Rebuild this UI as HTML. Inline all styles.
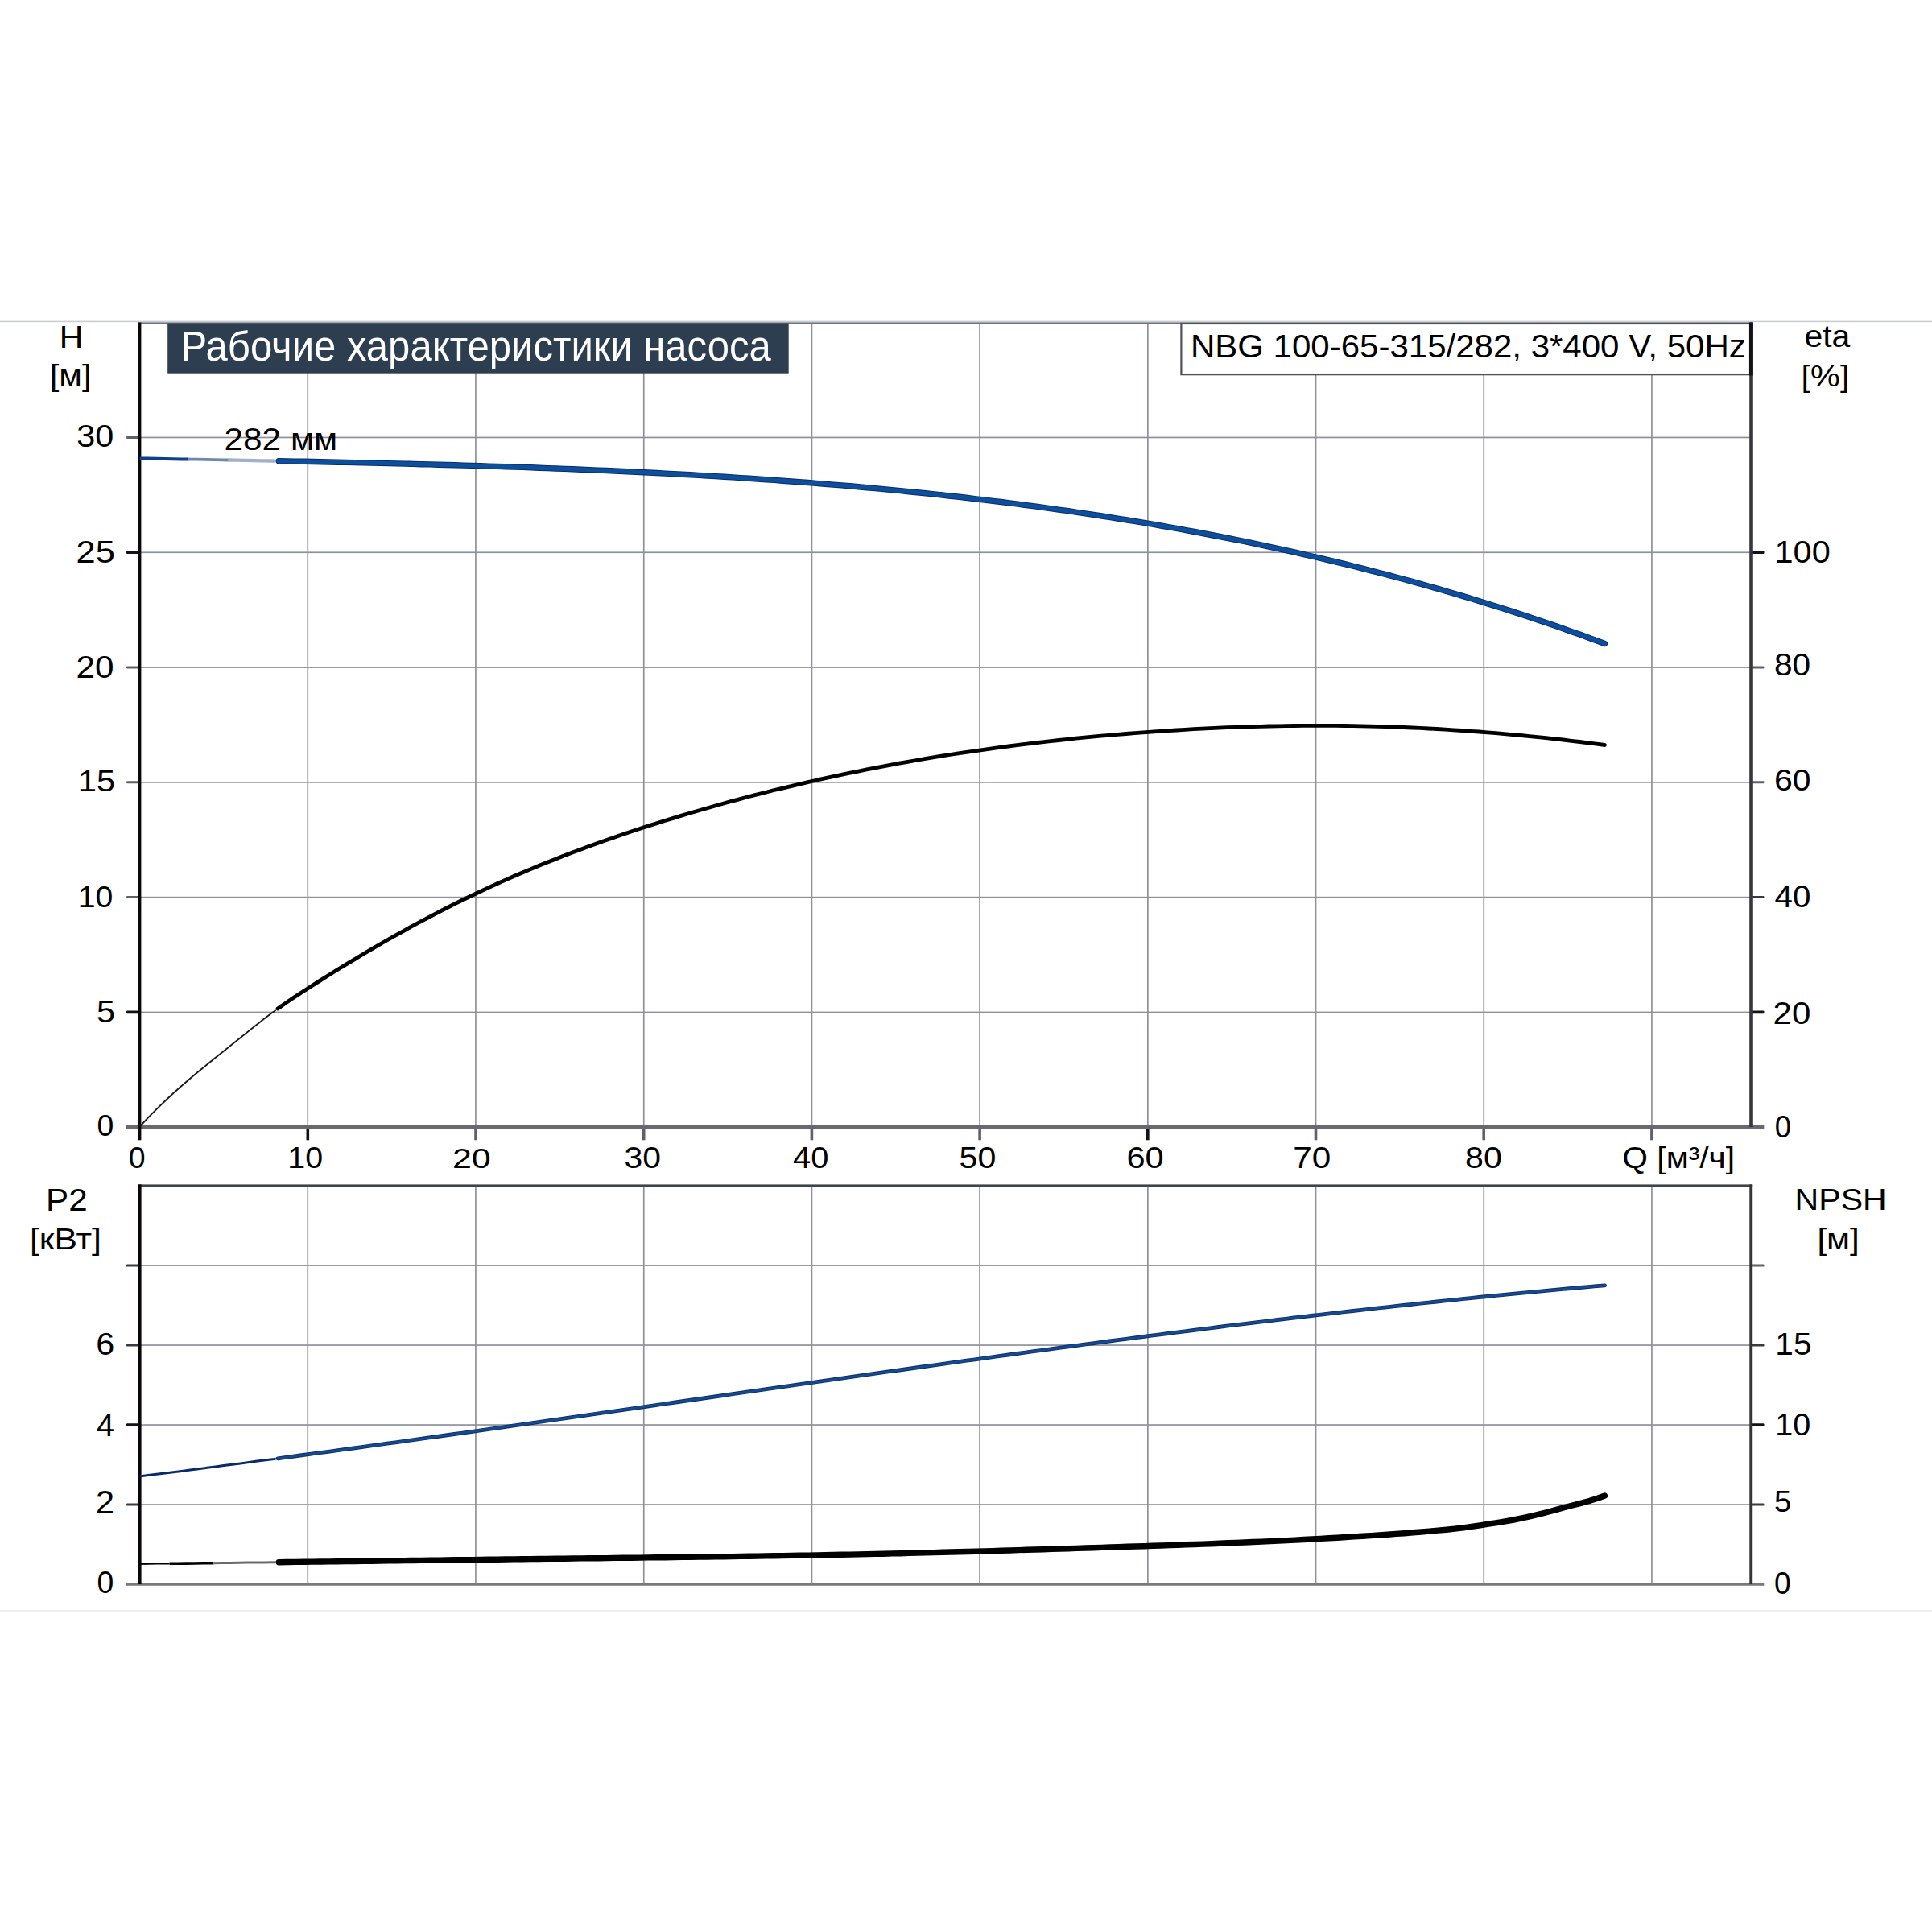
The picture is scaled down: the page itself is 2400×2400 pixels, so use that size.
<!DOCTYPE html>
<html><head><meta charset="utf-8"><title>NBG 100-65-315/282</title>
<style>html,body{margin:0;padding:0;background:#fff;}svg{display:block;}text{font-family:"Liberation Sans",sans-serif;fill:#000;}</style>
</head><body>
<svg width="2400" height="2400" viewBox="0 0 2400 2400">
<rect x="0" y="0" width="2400" height="2400" fill="#fff"/>
<rect x="0" y="398.6" width="2400" height="1.6" fill="#c9cdd2"/>
<rect x="0" y="2000.4" width="2400" height="1.3" fill="#e3e7ea"/>
<rect x="381.4" y="401" width="1.7" height="999" fill="#8e919d"/>
<rect x="590.1" y="401" width="1.7" height="999" fill="#8e919d"/>
<rect x="798.9" y="401" width="1.7" height="999" fill="#8e919d"/>
<rect x="1007.6" y="401" width="1.7" height="999" fill="#8e919d"/>
<rect x="1216.2" y="401" width="1.7" height="999" fill="#8e919d"/>
<rect x="1425" y="401" width="1.7" height="999" fill="#8e919d"/>
<rect x="1633.7" y="401" width="1.7" height="999" fill="#8e919d"/>
<rect x="1842.4" y="401" width="1.7" height="999" fill="#8e919d"/>
<rect x="2051.1" y="401" width="1.7" height="999" fill="#8e919d"/>
<rect x="173" y="1256.6" width="2002" height="1.7" fill="#8e919d"/>
<rect x="173" y="1113.8" width="2002" height="1.7" fill="#8e919d"/>
<rect x="173" y="971" width="2002" height="1.7" fill="#8e919d"/>
<rect x="173" y="828.2" width="2002" height="1.7" fill="#8e919d"/>
<rect x="173" y="685.4" width="2002" height="1.7" fill="#8e919d"/>
<rect x="173" y="542.6" width="2002" height="1.7" fill="#8e919d"/>
<rect x="171.4" y="400.4" width="2006.6" height="2.2" fill="#6e747c"/>
<rect x="157" y="1255.6" width="16" height="3.6" rx="1.2" fill="#121114"/>
<rect x="157" y="1113.1" width="16" height="3.0" rx="1.2" fill="#606166"/>
<rect x="157" y="970.3" width="16" height="3.0" rx="1.2" fill="#606166"/>
<rect x="157" y="827.5" width="16" height="3.0" rx="1.2" fill="#606166"/>
<rect x="157" y="684.4" width="16" height="3.6" rx="1.2" fill="#121114"/>
<rect x="157" y="541.9" width="16" height="3.0" rx="1.2" fill="#606166"/>
<rect x="2176" y="1255.6" width="15.5" height="3.6" rx="1.2" fill="#121114"/>
<rect x="2176" y="1113.1" width="15.5" height="3.0" rx="1.2" fill="#3a3a3f"/>
<rect x="2176" y="970.3" width="15.5" height="3.0" rx="1.2" fill="#606166"/>
<rect x="2176" y="827.5" width="15.5" height="3.0" rx="1.2" fill="#606166"/>
<rect x="2176" y="684.4" width="15.5" height="3.6" rx="1.2" fill="#121114"/>
<rect x="380.5" y="1400" width="3.6" height="16.3" fill="#121114"/>
<rect x="589.2" y="1400" width="3.6" height="16.3" fill="#606166"/>
<rect x="797.9" y="1400" width="3.6" height="16.3" fill="#606166"/>
<rect x="1006.6" y="1400" width="3.6" height="16.3" fill="#606166"/>
<rect x="1215.3" y="1400" width="3.6" height="16.3" fill="#606166"/>
<rect x="1424" y="1400" width="3.6" height="16.3" fill="#121114"/>
<rect x="1632.7" y="1400" width="3.6" height="16.3" fill="#606166"/>
<rect x="1841.4" y="1400" width="3.6" height="16.3" fill="#606166"/>
<rect x="2050.1" y="1400" width="3.6" height="16.3" fill="#606166"/>
<rect x="157" y="1397.4" width="2034.3" height="5" fill="#69696d"/>
<rect x="171.4" y="400.5" width="4" height="1015.8" fill="#0b0609"/>
<rect x="2173.2" y="400.5" width="4.6" height="999.5" fill="#36363c"/>
<rect x="208.2" y="401.5" width="771.5" height="62.2" fill="#2e3e51"/>
<rect x="1467.4" y="402" width="706.6" height="63.2" fill="#fff" stroke="#4d5056" stroke-width="2.2"/>
<rect x="2173.0" y="400.5" width="4.8" height="66" fill="#141216"/>
<text transform="translate(73.8,431.9) scale(1.0387,1)" font-size="39.54">H</text>
<text transform="translate(61.7,479.4) scale(1.1274,1)" font-size="36.93">[м]</text>
<text transform="translate(2241.4,431.4) scale(1.0381,1)" font-size="39.44">eta</text>
<text transform="translate(2237.6,479.5) scale(1.1343,1)" font-size="36.51">[%]</text>
<text transform="translate(57.1,1503.8) scale(1.0748,1)" font-size="39.25">P2</text>
<text transform="translate(37,1551.5) scale(1.1363,1)" font-size="37.56">[кВт]</text>
<text transform="translate(2229.6,1503.1) scale(1.0858,1)" font-size="37.84">NPSH</text>
<text transform="translate(2257.4,1551.6) scale(1.1484,1)" font-size="36.72">[м]</text>
<text transform="translate(2015.3,1451.1) scale(1.0881,1)" font-size="37.46">Q [м³/ч]</text>
<text transform="translate(278.4,559) scale(1.1164,1)" font-size="37.98">282 мм</text>
<text transform="translate(95.2,555.1) scale(1.0854,1)" font-size="38.12">30</text>
<text transform="translate(94.5,699) scale(1.1390,1)" font-size="38.12">25</text>
<text transform="translate(94.5,842.1) scale(1.1092,1)" font-size="38.12">20</text>
<text transform="translate(96.7,982.8) scale(1.1256,1)" font-size="37.15">15</text>
<text transform="translate(96.8,1126.9) scale(1.0365,1)" font-size="37.84">10</text>
<text transform="translate(120,1270.2) scale(1.0871,1)" font-size="37.98">5</text>
<text transform="translate(120.5,1411.1) scale(1.0144,1)" font-size="36.87">0</text>
<text transform="translate(2204.5,699.2) scale(1.0884,1)" font-size="38.12">100</text>
<text transform="translate(2203.9,839) scale(1.0655,1)" font-size="38.12">80</text>
<text transform="translate(2203.9,982.2) scale(1.1021,1)" font-size="37.15">60</text>
<text transform="translate(2204.5,1127) scale(1.0371,1)" font-size="38.96">40</text>
<text transform="translate(2202.6,1271.6) scale(1.0805,1)" font-size="38.96">20</text>
<text transform="translate(2204.7,1412.7) scale(0.9411,1)" font-size="38.68">0</text>
<text transform="translate(159.8,1450.8) scale(0.9993,1)" font-size="37.43">0</text>
<text transform="translate(357.3,1450.7) scale(1.0773,1)" font-size="36.59">10</text>
<text transform="translate(561.9,1450.6) scale(1.1948,1)" font-size="36.03">20</text>
<text transform="translate(775.6,1450.6) scale(1.1351,1)" font-size="36.03">30</text>
<text transform="translate(985.1,1450.6) scale(1.1056,1)" font-size="36.03">40</text>
<text transform="translate(1191.6,1450.8) scale(1.1213,1)" font-size="36.73">50</text>
<text transform="translate(1399.4,1450.8) scale(1.1303,1)" font-size="36.73">60</text>
<text transform="translate(1606.3,1450.8) scale(1.1513,1)" font-size="36.73">70</text>
<text transform="translate(1820,1451.4) scale(1.0884,1)" font-size="37.84">80</text>
<text transform="translate(119.2,1682.9) scale(1.0896,1)" font-size="37.98">6</text>
<text transform="translate(120.1,1783.7) scale(0.9993,1)" font-size="39.40">4</text>
<text transform="translate(118.7,1880) scale(1.0554,1)" font-size="39.82">2</text>
<text transform="translate(120.4,1979.3) scale(0.9775,1)" font-size="38.26">0</text>
<text transform="translate(2205.3,1683.3) scale(1.0503,1)" font-size="38.68">15</text>
<text transform="translate(2205.3,1783) scale(1.0279,1)" font-size="38.54">10</text>
<text transform="translate(2204.1,1878.4) scale(1.0376,1)" font-size="37.01">5</text>
<text transform="translate(2204.1,1980) scale(0.9583,1)" font-size="38.82">0</text>
<text transform="translate(224.5,447.8) scale(0.9477,1)" font-size="51.74" style="fill:#fff">Рабочие характеристики насоса</text>
<text transform="translate(1478.9,443.7) scale(1.0439,1)" font-size="40.26">NBG 100-65-315/282, 3*400 V, 50Hz</text>
<path d="M173.6,569.4 184,569.6 194.5,569.8 204.9,570 215.3,570.2 225.8,570.4 234.5,570.6" fill="none" stroke="#0d3f8a" stroke-width="4.0" stroke-linecap="butt" stroke-linejoin="round"/>
<path d="M234.5,570.6 245,570.7 255.4,570.9 265.8,571.1 276.3,571.3 283.8,571.5" fill="none" stroke="#7186ab" stroke-width="3.8" stroke-linecap="butt" stroke-linejoin="round"/>
<path d="M283.8,571.5 294.2,571.7 304.7,571.9 315.1,572.1 325.5,572.3 336,572.5 342.6,572.6" fill="none" stroke="#a2b1c9" stroke-width="4.3" stroke-linecap="butt" stroke-linejoin="round"/>
<path d="M346.3,572.7 356.8,572.9 367.2,573.1 377.7,573.3 388.1,573.5 398.5,573.7 409,574 419.4,574.2 429.8,574.4 440.3,574.6 450.7,574.9 461.1,575.1 471.6,575.4 482,575.6 492.4,575.9 502.9,576.1 513.3,576.4 523.7,576.7 534.2,576.9 544.6,577.2 555,577.5 565.5,577.8 575.9,578.1 586.4,578.4 596.8,578.7 607.2,579.1 617.7,579.4 628.1,579.7 638.5,580.1 649,580.4 659.4,580.8 669.8,581.2 680.3,581.6 690.7,582 701.1,582.4 711.6,582.8 722,583.2 732.4,583.6 742.9,584.1 753.3,584.5 763.7,585 774.2,585.5 784.6,586 795.1,586.5 805.5,587 815.9,587.5 826.4,588.1 836.8,588.6 847.2,589.2 857.7,589.8 868.1,590.4 878.5,591 889,591.6 899.4,592.3 909.8,592.9 920.3,593.6 930.7,594.3 941.1,595 951.6,595.7 962,596.4 972.4,597.2 982.9,598 993.3,598.7 1003.8,599.5 1014.2,600.4 1024.6,601.2 1035.1,602.1 1045.5,602.9 1055.9,603.8 1066.4,604.8 1076.8,605.7 1087.2,606.6 1097.7,607.6 1108.1,608.6 1118.5,609.6 1129,610.7 1139.4,611.7 1149.8,612.8 1160.3,613.9 1170.7,615 1181.1,616.2 1191.6,617.3 1202,618.5 1212.5,619.8 1222.9,621 1233.3,622.3 1243.8,623.5 1254.2,624.9 1264.6,626.2 1275.1,627.6 1285.5,628.9 1295.9,630.4 1306.4,631.8 1316.8,633.3 1327.2,634.7 1337.7,636.3 1348.1,637.8 1358.5,639.4 1369,641 1379.4,642.6 1389.8,644.3 1400.3,646 1410.7,647.7 1421.2,649.4 1431.6,651.2 1442,653 1452.5,654.8 1462.9,656.7 1473.3,658.6 1483.8,660.5 1494.2,662.5 1504.6,664.5 1515.1,666.5 1525.5,668.5 1535.9,670.6 1546.4,672.7 1556.8,674.9 1567.2,677.1 1577.7,679.3 1588.1,681.6 1598.5,683.9 1609,686.2 1619.4,688.6 1629.9,691 1640.3,693.4 1650.7,695.9 1661.2,698.4 1671.6,700.9 1682,703.5 1692.5,706.1 1702.9,708.8 1713.3,711.5 1723.8,714.2 1734.2,717 1744.6,719.8 1755.1,722.6 1765.5,725.5 1775.9,728.5 1786.4,731.4 1796.8,734.5 1807.2,737.5 1817.7,740.6 1828.1,743.8 1838.6,747 1849,750.2 1859.4,753.5 1869.9,756.8 1880.3,760.1 1890.7,763.5 1901.2,767 1911.6,770.5 1922,774 1932.5,777.6 1942.9,781.2 1953.3,784.9 1963.8,788.6 1974.2,792.4 1984.6,796.2 1993.5,799.5" fill="none" stroke="#0b2a72" stroke-width="7.4" stroke-linecap="round" stroke-linejoin="round"/>
<path d="M346.3,572.7 356.8,572.9 367.2,573.1 377.7,573.3 388.1,573.5 398.5,573.7 409,574 419.4,574.2 429.8,574.4 440.3,574.6 450.7,574.9 461.1,575.1 471.6,575.4 482,575.6 492.4,575.9 502.9,576.1 513.3,576.4 523.7,576.7 534.2,576.9 544.6,577.2 555,577.5 565.5,577.8 575.9,578.1 586.4,578.4 596.8,578.7 607.2,579.1 617.7,579.4 628.1,579.7 638.5,580.1 649,580.4 659.4,580.8 669.8,581.2 680.3,581.6 690.7,582 701.1,582.4 711.6,582.8 722,583.2 732.4,583.6 742.9,584.1 753.3,584.5 763.7,585 774.2,585.5 784.6,586 795.1,586.5 805.5,587 815.9,587.5 826.4,588.1 836.8,588.6 847.2,589.2 857.7,589.8 868.1,590.4 878.5,591 889,591.6 899.4,592.3 909.8,592.9 920.3,593.6 930.7,594.3 941.1,595 951.6,595.7 962,596.4 972.4,597.2 982.9,598 993.3,598.7 1003.8,599.5 1014.2,600.4 1024.6,601.2 1035.1,602.1 1045.5,602.9 1055.9,603.8 1066.4,604.8 1076.8,605.7 1087.2,606.6 1097.7,607.6 1108.1,608.6 1118.5,609.6 1129,610.7 1139.4,611.7 1149.8,612.8 1160.3,613.9 1170.7,615 1181.1,616.2 1191.6,617.3 1202,618.5 1212.5,619.8 1222.9,621 1233.3,622.3 1243.8,623.5 1254.2,624.9 1264.6,626.2 1275.1,627.6 1285.5,628.9 1295.9,630.4 1306.4,631.8 1316.8,633.3 1327.2,634.7 1337.7,636.3 1348.1,637.8 1358.5,639.4 1369,641 1379.4,642.6 1389.8,644.3 1400.3,646 1410.7,647.7 1421.2,649.4 1431.6,651.2 1442,653 1452.5,654.8 1462.9,656.7 1473.3,658.6 1483.8,660.5 1494.2,662.5 1504.6,664.5 1515.1,666.5 1525.5,668.5 1535.9,670.6 1546.4,672.7 1556.8,674.9 1567.2,677.1 1577.7,679.3 1588.1,681.6 1598.5,683.9 1609,686.2 1619.4,688.6 1629.9,691 1640.3,693.4 1650.7,695.9 1661.2,698.4 1671.6,700.9 1682,703.5 1692.5,706.1 1702.9,708.8 1713.3,711.5 1723.8,714.2 1734.2,717 1744.6,719.8 1755.1,722.6 1765.5,725.5 1775.9,728.5 1786.4,731.4 1796.8,734.5 1807.2,737.5 1817.7,740.6 1828.1,743.8 1838.6,747 1849,750.2 1859.4,753.5 1869.9,756.8 1880.3,760.1 1890.7,763.5 1901.2,767 1911.6,770.5 1922,774 1932.5,777.6 1942.9,781.2 1953.3,784.9 1963.8,788.6 1974.2,792.4 1984.6,796.2 1993.5,799.5" fill="none" stroke="#0c509c" stroke-width="5.4" stroke-linecap="round" stroke-linejoin="round"/>
<path d="M173.6,1399.5 184,1388.4 194.5,1377.8 204.9,1367.7 215.3,1358 225.8,1348.8 236.2,1339.8 246.6,1331.1 257.1,1322.5 267.5,1314.1 277.9,1305.7 288.4,1297.3 298.8,1288.9 309.3,1280.5 319.7,1272.2 330.1,1264.1 340.6,1256.2 342.6,1254.7" fill="none" stroke="#1a1a1e" stroke-width="1.9" stroke-linecap="butt" stroke-linejoin="round"/>
<path d="M345,1253 355.5,1245.6 365.9,1238.6 376.4,1231.7 386.8,1225 397.2,1218.4 407.7,1211.8 418.1,1205.3 428.5,1198.9 439,1192.6 449.4,1186.3 459.8,1180.1 470.3,1174 480.7,1168 491.1,1162.1 501.6,1156.3 512,1150.5 522.4,1144.9 532.9,1139.3 543.3,1133.9 553.7,1128.5 564.2,1123.2 574.6,1118 585.1,1113 595.5,1108 605.9,1103.1 616.4,1098.3 626.8,1093.6 637.2,1089 647.7,1084.5 658.1,1080.1 668.5,1075.8 679,1071.6 689.4,1067.4 699.8,1063.3 710.3,1059.3 720.7,1055.4 731.1,1051.5 741.6,1047.8 752,1044.1 762.4,1040.4 772.9,1036.8 783.3,1033.3 793.8,1029.8 804.2,1026.4 814.6,1023.1 825.1,1019.8 835.5,1016.6 845.9,1013.4 856.4,1010.3 866.8,1007.2 877.2,1004.2 887.7,1001.2 898.1,998.3 908.5,995.4 919,992.6 929.4,989.8 939.8,987.1 950.3,984.5 960.7,981.8 971.1,979.3 981.6,976.8 992,974.3 1002.5,971.9 1012.9,969.5 1023.3,967.2 1033.8,964.9 1044.2,962.6 1054.6,960.4 1065.1,958.3 1075.5,956.2 1085.9,954.1 1096.4,952.1 1106.8,950.1 1117.2,948.2 1127.7,946.3 1138.1,944.5 1148.5,942.7 1159,940.9 1169.4,939.2 1179.8,937.5 1190.3,935.9 1200.7,934.3 1211.2,932.8 1221.6,931.3 1232,929.8 1242.5,928.4 1252.9,927 1263.3,925.6 1273.8,924.3 1284.2,923 1294.6,921.8 1305.1,920.6 1315.5,919.5 1325.9,918.3 1336.4,917.2 1346.8,916.2 1357.2,915.2 1367.7,914.2 1378.1,913.3 1388.5,912.4 1399,911.5 1409.4,910.6 1419.9,909.8 1430.3,909.1 1440.7,908.3 1451.2,907.6 1461.6,907 1472,906.3 1482.5,905.7 1492.9,905.2 1503.3,904.6 1513.8,904.1 1524.2,903.7 1534.6,903.3 1545.1,902.9 1555.5,902.6 1565.9,902.3 1576.4,902 1586.8,901.8 1597.2,901.6 1607.7,901.5 1618.1,901.4 1628.6,901.3 1639,901.3 1649.4,901.3 1659.9,901.4 1670.3,901.5 1680.7,901.7 1691.2,901.9 1701.6,902.1 1712,902.4 1722.5,902.7 1732.9,903.1 1743.3,903.5 1753.8,904 1764.2,904.4 1774.6,905 1785.1,905.5 1795.5,906.2 1805.9,906.8 1816.4,907.5 1826.8,908.3 1837.3,909 1847.7,909.9 1858.1,910.7 1868.6,911.6 1879,912.6 1889.4,913.5 1899.9,914.6 1910.3,915.6 1920.7,916.7 1931.2,917.9 1941.6,919 1952,920.3 1962.5,921.5 1972.9,922.8 1983.3,924.2 1993.5,925.5" fill="none" stroke="#000" stroke-width="4.8" stroke-linecap="round" stroke-linejoin="round"/>
<rect x="381.4" y="1472" width="1.7" height="496" fill="#8e919d"/>
<rect x="590.1" y="1472" width="1.7" height="496" fill="#8e919d"/>
<rect x="798.9" y="1472" width="1.7" height="496" fill="#8e919d"/>
<rect x="1007.6" y="1472" width="1.7" height="496" fill="#8e919d"/>
<rect x="1216.2" y="1472" width="1.7" height="496" fill="#8e919d"/>
<rect x="1425" y="1472" width="1.7" height="496" fill="#8e919d"/>
<rect x="1633.7" y="1472" width="1.7" height="496" fill="#8e919d"/>
<rect x="1842.4" y="1472" width="1.7" height="496" fill="#8e919d"/>
<rect x="2051.1" y="1472" width="1.7" height="496" fill="#8e919d"/>
<rect x="173" y="1868.2" width="2002" height="1.7" fill="#8e919d"/>
<rect x="173" y="1769.2" width="2002" height="1.7" fill="#8e919d"/>
<rect x="173" y="1670.2" width="2002" height="1.7" fill="#8e919d"/>
<rect x="173" y="1571.2" width="2002" height="1.7" fill="#8e919d"/>
<rect x="172" y="1471.4" width="2005.2" height="2.8" fill="#3f4449"/>
<rect x="157" y="1867.6" width="16" height="3.0" rx="1.2" fill="#3a3a3f"/>
<rect x="2176" y="1867.6" width="15.5" height="3.0" rx="1.2" fill="#3a3a3f"/>
<rect x="157" y="1768.3" width="16" height="3.6" rx="1.2" fill="#121114"/>
<rect x="2176" y="1768.3" width="15.5" height="3.6" rx="1.2" fill="#121114"/>
<rect x="157" y="1669.6" width="16" height="3.0" rx="1.2" fill="#3a3a3f"/>
<rect x="2176" y="1669.6" width="15.5" height="3.0" rx="1.2" fill="#3a3a3f"/>
<rect x="157" y="1570.6" width="16" height="3.0" rx="1.2" fill="#3a3a3f"/>
<rect x="2176" y="1570.6" width="15.5" height="3.0" rx="1.2" fill="#606166"/>
<rect x="157" y="1966.4" width="2034.3" height="3.4" fill="#7a7a7e"/>
<rect x="171.8" y="1471.4" width="3.8" height="496.6" fill="#0b0609"/>
<rect x="2173.3" y="1471.4" width="3.9" height="496.6" fill="#333338"/>
<path d="M173.6,1834 184,1832.6 194.5,1831.3 204.9,1830 215.3,1828.7 225.8,1827.4 236.2,1826 246.6,1824.7 257.1,1823.3 267.5,1822 277.9,1820.6 288.4,1819.3 298.8,1817.9 309.3,1816.5 319.7,1815.1 330.1,1813.7 340.6,1812.4 342.6,1812.1" fill="none" stroke="#0a2a6a" stroke-width="3.0" stroke-linecap="butt" stroke-linejoin="round"/>
<path d="M345,1811.8 355.5,1810.4 365.9,1809 376.4,1807.5 386.8,1806.1 397.2,1804.7 407.7,1803.3 418.1,1801.9 428.5,1800.4 439,1799 449.4,1797.6 459.8,1796.1 470.3,1794.7 480.7,1793.2 491.1,1791.8 501.6,1790.3 512,1788.9 522.4,1787.4 532.9,1785.9 543.3,1784.5 553.7,1783 564.2,1781.5 574.6,1780.1 585.1,1778.6 595.5,1777.1 605.9,1775.6 616.4,1774.1 626.8,1772.6 637.2,1771.1 647.7,1769.6 658.1,1768.1 668.5,1766.7 679,1765.2 689.4,1763.7 699.8,1762.2 710.3,1760.6 720.7,1759.1 731.1,1757.6 741.6,1756.1 752,1754.6 762.4,1753.1 772.9,1751.6 783.3,1750.1 793.8,1748.6 804.2,1747.1 814.6,1745.6 825.1,1744 835.5,1742.5 845.9,1741 856.4,1739.5 866.8,1738 877.2,1736.5 887.7,1735 898.1,1733.5 908.5,1731.9 919,1730.4 929.4,1728.9 939.8,1727.4 950.3,1725.9 960.7,1724.4 971.1,1722.9 981.6,1721.4 992,1719.9 1002.5,1718.4 1012.9,1716.9 1023.3,1715.4 1033.8,1713.9 1044.2,1712.4 1054.6,1710.9 1065.1,1709.4 1075.5,1707.9 1085.9,1706.4 1096.4,1704.9 1106.8,1703.4 1117.2,1702 1127.7,1700.5 1138.1,1699 1148.5,1697.5 1159,1696.1 1169.4,1694.6 1179.8,1693.1 1190.3,1691.7 1200.7,1690.2 1211.2,1688.8 1221.6,1687.3 1232,1685.9 1242.5,1684.4 1252.9,1683 1263.3,1681.5 1273.8,1680.1 1284.2,1678.7 1294.6,1677.3 1305.1,1675.8 1315.5,1674.4 1325.9,1673 1336.4,1671.6 1346.8,1670.2 1357.2,1668.8 1367.7,1667.4 1378.1,1666 1388.5,1664.6 1399,1663.3 1409.4,1661.9 1419.9,1660.5 1430.3,1659.2 1440.7,1657.8 1451.2,1656.5 1461.6,1655.1 1472,1653.8 1482.5,1652.5 1492.9,1651.1 1503.3,1649.8 1513.8,1648.5 1524.2,1647.2 1534.6,1645.9 1545.1,1644.6 1555.5,1643.3 1565.9,1642.1 1576.4,1640.8 1586.8,1639.5 1597.2,1638.3 1607.7,1637 1618.1,1635.8 1628.6,1634.5 1639,1633.3 1649.4,1632.1 1659.9,1630.9 1670.3,1629.7 1680.7,1628.5 1691.2,1627.3 1701.6,1626.1 1712,1624.9 1722.5,1623.8 1732.9,1622.6 1743.3,1621.5 1753.8,1620.3 1764.2,1619.2 1774.6,1618.1 1785.1,1617 1795.5,1615.9 1805.9,1614.8 1816.4,1613.7 1826.8,1612.6 1837.3,1611.5 1847.7,1610.5 1858.1,1609.4 1868.6,1608.4 1879,1607.4 1889.4,1606.3 1899.9,1605.3 1910.3,1604.3 1920.7,1603.4 1931.2,1602.4 1941.6,1601.4 1952,1600.5 1962.5,1599.5 1972.9,1598.6 1983.3,1597.7 1993.5,1596.8" fill="none" stroke="#0d2c6c" stroke-width="4.8" stroke-linecap="round" stroke-linejoin="round"/>
<path d="M345,1811.8 355.5,1810.4 365.9,1809 376.4,1807.5 386.8,1806.1 397.2,1804.7 407.7,1803.3 418.1,1801.9 428.5,1800.4 439,1799 449.4,1797.6 459.8,1796.1 470.3,1794.7 480.7,1793.2 491.1,1791.8 501.6,1790.3 512,1788.9 522.4,1787.4 532.9,1785.9 543.3,1784.5 553.7,1783 564.2,1781.5 574.6,1780.1 585.1,1778.6 595.5,1777.1 605.9,1775.6 616.4,1774.1 626.8,1772.6 637.2,1771.1 647.7,1769.6 658.1,1768.1 668.5,1766.7 679,1765.2 689.4,1763.7 699.8,1762.2 710.3,1760.6 720.7,1759.1 731.1,1757.6 741.6,1756.1 752,1754.6 762.4,1753.1 772.9,1751.6 783.3,1750.1 793.8,1748.6 804.2,1747.1 814.6,1745.6 825.1,1744 835.5,1742.5 845.9,1741 856.4,1739.5 866.8,1738 877.2,1736.5 887.7,1735 898.1,1733.5 908.5,1731.9 919,1730.4 929.4,1728.9 939.8,1727.4 950.3,1725.9 960.7,1724.4 971.1,1722.9 981.6,1721.4 992,1719.9 1002.5,1718.4 1012.9,1716.9 1023.3,1715.4 1033.8,1713.9 1044.2,1712.4 1054.6,1710.9 1065.1,1709.4 1075.5,1707.9 1085.9,1706.4 1096.4,1704.9 1106.8,1703.4 1117.2,1702 1127.7,1700.5 1138.1,1699 1148.5,1697.5 1159,1696.1 1169.4,1694.6 1179.8,1693.1 1190.3,1691.7 1200.7,1690.2 1211.2,1688.8 1221.6,1687.3 1232,1685.9 1242.5,1684.4 1252.9,1683 1263.3,1681.5 1273.8,1680.1 1284.2,1678.7 1294.6,1677.3 1305.1,1675.8 1315.5,1674.4 1325.9,1673 1336.4,1671.6 1346.8,1670.2 1357.2,1668.8 1367.7,1667.4 1378.1,1666 1388.5,1664.6 1399,1663.3 1409.4,1661.9 1419.9,1660.5 1430.3,1659.2 1440.7,1657.8 1451.2,1656.5 1461.6,1655.1 1472,1653.8 1482.5,1652.5 1492.9,1651.1 1503.3,1649.8 1513.8,1648.5 1524.2,1647.2 1534.6,1645.9 1545.1,1644.6 1555.5,1643.3 1565.9,1642.1 1576.4,1640.8 1586.8,1639.5 1597.2,1638.3 1607.7,1637 1618.1,1635.8 1628.6,1634.5 1639,1633.3 1649.4,1632.1 1659.9,1630.9 1670.3,1629.7 1680.7,1628.5 1691.2,1627.3 1701.6,1626.1 1712,1624.9 1722.5,1623.8 1732.9,1622.6 1743.3,1621.5 1753.8,1620.3 1764.2,1619.2 1774.6,1618.1 1785.1,1617 1795.5,1615.9 1805.9,1614.8 1816.4,1613.7 1826.8,1612.6 1837.3,1611.5 1847.7,1610.5 1858.1,1609.4 1868.6,1608.4 1879,1607.4 1889.4,1606.3 1899.9,1605.3 1910.3,1604.3 1920.7,1603.4 1931.2,1602.4 1941.6,1601.4 1952,1600.5 1962.5,1599.5 1972.9,1598.6 1983.3,1597.7 1993.5,1596.8" fill="none" stroke="#144a8e" stroke-width="3.0" stroke-linecap="round" stroke-linejoin="round"/>
<path d="M173.6,1942.8 184,1942.7 194.5,1942.5 204.9,1942.4 210.5,1942.3" fill="none" stroke="#000" stroke-width="2.2" stroke-linecap="butt" stroke-linejoin="round"/>
<path d="M210.5,1942.3 221,1942.2 231.4,1942.1 241.8,1942 252.3,1941.8 262.7,1941.7 265.2,1941.7" fill="none" stroke="#000" stroke-width="3.6" stroke-linecap="butt" stroke-linejoin="round"/>
<path d="M265.2,1941.7 275.7,1941.5 286.1,1941.4 296.5,1941.3 307,1941.1 317.4,1941 327.8,1940.9 338.3,1940.8 342.6,1940.7" fill="none" stroke="#6a6a6a" stroke-width="3.0" stroke-linecap="butt" stroke-linejoin="round"/>
<path d="M346.3,1940.7 356.8,1940.5 367.2,1940.4 377.7,1940.3 388.1,1940.1 398.5,1940 409,1939.9 419.4,1939.7 429.8,1939.6 440.3,1939.5 450.7,1939.3 461.1,1939.2 471.6,1939.1 482,1938.9 492.4,1938.8 502.9,1938.6 513.3,1938.5 523.7,1938.4 534.2,1938.2 544.6,1938.1 555,1938 565.5,1937.8 575.9,1937.7 586.4,1937.6 596.8,1937.4 607.2,1937.3 617.7,1937.2 628.1,1937 638.5,1936.9 649,1936.8 659.4,1936.6 669.8,1936.5 680.3,1936.4 690.7,1936.3 701.1,1936.2 711.6,1936 722,1935.9 732.4,1935.8 742.9,1935.7 753.3,1935.6 763.7,1935.4 774.2,1935.3 784.6,1935.2 795.1,1935.1 805.5,1934.9 815.9,1934.8 826.4,1934.7 836.8,1934.5 847.2,1934.4 857.7,1934.3 868.1,1934.1 878.5,1934 889,1933.9 899.4,1933.7 909.8,1933.6 920.3,1933.4 930.7,1933.3 941.1,1933.1 951.6,1932.9 962,1932.8 972.4,1932.6 982.9,1932.4 993.3,1932.3 1003.8,1932.1 1014.2,1931.9 1024.6,1931.7 1035.1,1931.5 1045.5,1931.3 1055.9,1931.1 1066.4,1930.9 1076.8,1930.6 1087.2,1930.4 1097.7,1930.2 1108.1,1929.9 1118.5,1929.7 1129,1929.4 1139.4,1929.1 1149.8,1928.9 1160.3,1928.6 1170.7,1928.3 1181.1,1928 1191.6,1927.8 1202,1927.5 1212.5,1927.2 1222.9,1926.9 1233.3,1926.6 1243.8,1926.3 1254.2,1926 1264.6,1925.6 1275.1,1925.3 1285.5,1925 1295.9,1924.7 1306.4,1924.4 1316.8,1924 1327.2,1923.7 1337.7,1923.4 1348.1,1923 1358.5,1922.7 1369,1922.4 1379.4,1922 1389.8,1921.7 1400.3,1921.3 1410.7,1921 1421.2,1920.7 1431.6,1920.3 1442,1920 1452.5,1919.6 1462.9,1919.2 1473.3,1918.8 1483.8,1918.5 1494.2,1918.1 1504.6,1917.7 1515.1,1917.2 1525.5,1916.8 1535.9,1916.4 1546.4,1916 1556.8,1915.5 1567.2,1915.1 1577.7,1914.6 1588.1,1914.1 1598.5,1913.6 1609,1913.1 1619.4,1912.5 1629.9,1912 1640.3,1911.4 1650.7,1910.8 1661.2,1910.2 1671.6,1909.5 1682,1908.9 1692.5,1908.3 1702.9,1907.6 1713.3,1906.9 1723.8,1906.2 1734.2,1905.4 1744.6,1904.7 1755.1,1903.8 1765.5,1903 1775.9,1902.1 1786.4,1901.1 1796.8,1900.2 1807.2,1899.1 1817.7,1897.8 1828.1,1896.3 1838.6,1894.8 1849,1893.2 1859.4,1891.6 1869.9,1889.9 1880.3,1888 1890.7,1885.9 1901.2,1883.6 1911.6,1881.2 1922,1878.5 1932.5,1875.7 1942.9,1872.8 1953.3,1870 1963.8,1867.3 1974.2,1864.5 1984.6,1861.3 1993.5,1858" fill="none" stroke="#000" stroke-width="7.4" stroke-linecap="round" stroke-linejoin="round"/>
</svg>
</body></html>
